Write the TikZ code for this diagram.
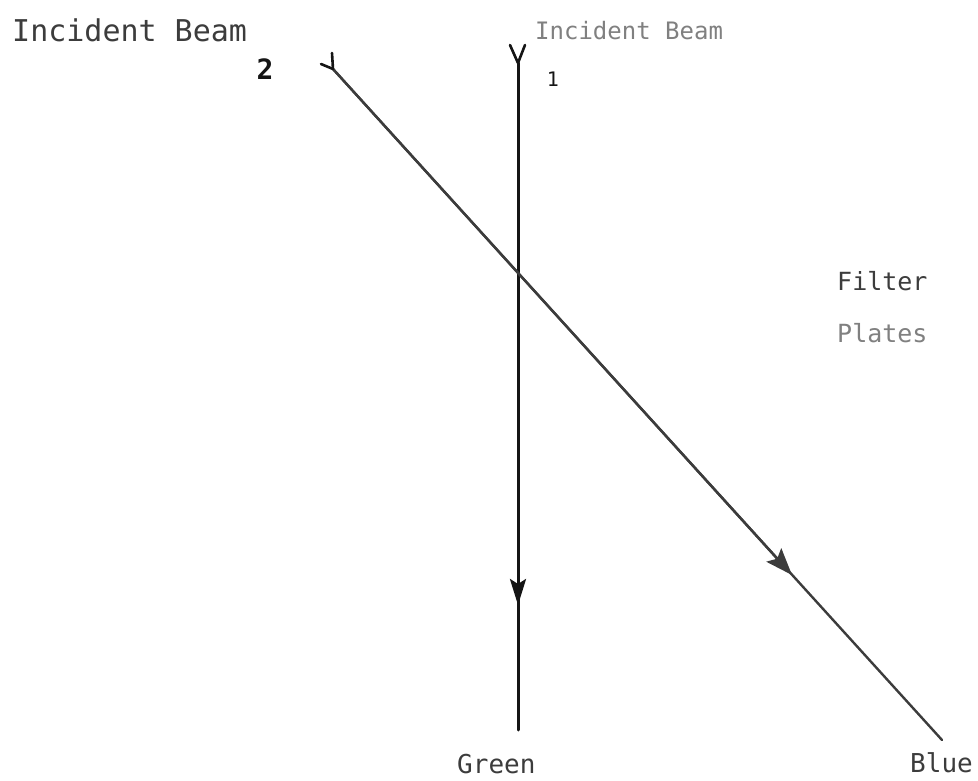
\documentclass[tikz,border=0pt]{standalone}
\usepackage{fontspec}
\usepackage{tikz}
\usetikzlibrary{arrows.meta}
\newfontfamily\handfont{DejaVu Sans Mono}
\definecolor{ink}{HTML}{151515}
\definecolor{pencil}{HTML}{3C3C3C}
\definecolor{faint}{HTML}{808080}

\begin{document}
\begin{tikzpicture}[x=1pt, y=-1pt, >=Stealth,
    lbl/.style={inner sep=0pt, anchor=base west, font=\handfont, text=pencil},
    beam/.style={line width=3pt, draw=ink, line cap=round},
    tail/.style={line width=2.6pt, draw=ink, line cap=round}]
  \useasboundingbox (0,0) rectangle (978,781);

  % beam 1 (straight down)
  \coordinate (s1) at (518,63);
  \coordinate (m1) at (518,605);
  \coordinate (e1) at (518,730);
  \draw[beam] (s1) -- (e1);
  \draw[beam, -{Stealth[length=26pt, width=16pt, inset=5pt]}] (s1) -- (m1);
  \draw[tail] (s1) -- ++(-8,-18) (s1) -- ++(7,-18);

  % beam 2 (slanted)
  \coordinate (s2) at (333,69);
  \coordinate (m2) at (792,575);
  \coordinate (e2) at (942,740);
  \draw[beam, line width=2.4pt, draw=pencil] (s2) -- (e2);
  \draw[beam, line width=2.4pt, draw=pencil, -{Stealth[length=27pt, width=20pt, inset=5pt]}] (s2) -- (m2);
  \draw[tail] (s2) -- ++(-12,-5) (s2) -- ++(-1,-16);

  % labels
  \node[lbl, font=\handfont\fontsize{30}{32}\selectfont] (inc2) at (12,42) {Incident Beam};
  \node[lbl, font=\handfont\fontsize{24}{26}\selectfont, text=faint] (inc1) at (535,40) {Incident Beam};
  \node[lbl, anchor=base, font=\handfont\bfseries\fontsize{28}{30}\selectfont, text=ink] (n2) at (265,80) {2};
  \node[lbl, anchor=base, font=\handfont\fontsize{20}{22}\selectfont, text=ink] (n1) at (553,87) {1};
  \node[lbl, font=\handfont\fontsize{25}{27}\selectfont] (filt) at (837,290) {Filter};
  \node[lbl, font=\handfont\fontsize{25}{27}\selectfont, text=faint] (plat) at (837,342) {Plates};
  \node[lbl, font=\handfont\fontsize{26}{28}\selectfont] (grn) at (457,773) {Green};
  \node[lbl, font=\handfont\fontsize{26}{28}\selectfont] (blu) at (910,772) {Blue};
\end{tikzpicture}
\end{document}
